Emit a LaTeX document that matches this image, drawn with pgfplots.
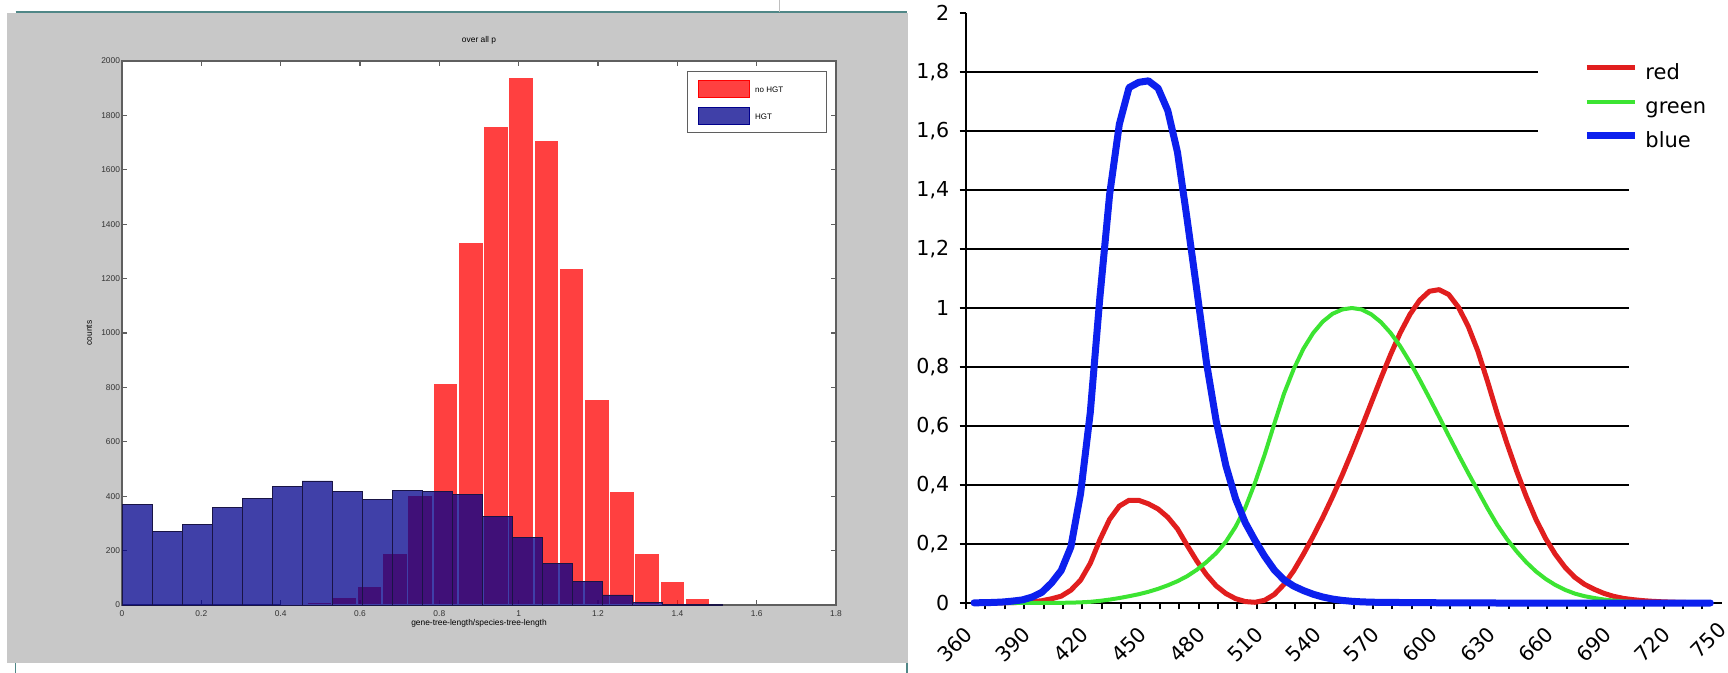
\documentclass[border=0pt]{standalone}
\usepackage{fontspec}
\setmainfont{Liberation Sans}
\newfontfamily\dejavu{DejaVu Sans}
\usepackage{pgfplots}
\usepackage{pgfplotstable}
\pgfplotsset{compat=1.18}

\definecolor{panelgray}{RGB}{200,200,200}
\definecolor{framegray}{RGB}{95,95,95}
\definecolor{hgtblue}{RGB}{0,0,140}
\definecolor{hgtedge}{RGB}{25,20,70}
\definecolor{cred}{RGB}{225,30,30}
\definecolor{cgreen}{RGB}{60,228,50}
\definecolor{cblue}{RGB}{12,32,238}
\definecolor{edgeteal}{RGB}{80,135,135}

% colour matching curves, 5 nm steps
\pgfplotstableread{
nm  red    green  blue
360 0.0001 0.0000 0.0006
365 0.0002 0.0000 0.0011
370 0.0004 0.0000 0.0019
375 0.0007 0.0000 0.0035
380 0.0014 0.0000 0.0065
385 0.0022 0.0001 0.0106
390 0.0042 0.0001 0.0201
395 0.0077 0.0002 0.0362
400 0.0143 0.0004 0.0679
405 0.0232 0.0006 0.1102
410 0.0435 0.0012 0.1900
415 0.0776 0.0022 0.3713
420 0.1344 0.0040 0.6456
425 0.2148 0.0073 1.0391
430 0.2839 0.0116 1.3856
435 0.3285 0.0168 1.6230
440 0.3483 0.0230 1.7471
445 0.3481 0.0298 1.7650
450 0.3362 0.0380 1.7700
455 0.3187 0.0480 1.7450
460 0.2908 0.0600 1.6692
465 0.2511 0.0739 1.5281
470 0.1954 0.0910 1.3000
475 0.1421 0.1126 1.0600
480 0.0956 0.1390 0.8130
485 0.0580 0.1693 0.6162
490 0.0320 0.2080 0.4652
495 0.0147 0.2586 0.3533
500 0.0049 0.3230 0.2720
505 0.0024 0.4073 0.2123
510 0.0093 0.5030 0.1582
515 0.0291 0.6082 0.1117
520 0.0633 0.7100 0.0783
525 0.1096 0.7932 0.0573
530 0.1655 0.8620 0.0422
535 0.2258 0.9149 0.0298
540 0.2904 0.9540 0.0203
545 0.3597 0.9803 0.0134
550 0.4335 0.9950 0.0088
555 0.5121 1.0000 0.0058
560 0.5945 0.9950 0.0039
565 0.6784 0.9786 0.0028
570 0.7621 0.9520 0.0021
575 0.8425 0.9154 0.0018
580 0.9163 0.8700 0.0017
585 0.9786 0.8163 0.0014
590 1.0263 0.7570 0.0011
595 1.0567 0.6949 0.0010
600 1.0622 0.6310 0.0008
605 1.0456 0.5668 0.0006
610 1.0026 0.5030 0.0003
615 0.9384 0.4412 0.0002
620 0.8544 0.3810 0.0002
625 0.7514 0.3210 0.0001
630 0.6424 0.2650 0.0000
635 0.5419 0.2170 0.0000
640 0.4479 0.1750 0.0000
645 0.3608 0.1382 0.0000
650 0.2835 0.1070 0.0000
655 0.2187 0.0816 0.0000
660 0.1649 0.0610 0.0000
665 0.1212 0.0446 0.0000
670 0.0874 0.0320 0.0000
675 0.0636 0.0232 0.0000
680 0.0468 0.0170 0.0000
685 0.0329 0.0119 0.0000
690 0.0227 0.0082 0.0000
695 0.0158 0.0057 0.0000
700 0.0114 0.0041 0.0000
705 0.0081 0.0029 0.0000
710 0.0058 0.0021 0.0000
715 0.0041 0.0015 0.0000
720 0.0029 0.0010 0.0000
725 0.0020 0.0007 0.0000
730 0.0014 0.0005 0.0000
735 0.0010 0.0004 0.0000
740 0.0007 0.0002 0.0000
}\cmf

\begin{document}
\begin{tikzpicture}
% 1 px of the reference = 0.5pt, origin at the top left corner
\useasboundingbox (0,0) rectangle (864pt,-336.5pt);
\fill[white] (0,0) rectangle (864pt,-336.5pt);
\fill[panelgray] (3.5pt,-6.5pt) rectangle (454pt,-331.5pt);
\draw[edgeteal, line width=0.6pt] (7.8pt,-6pt) -- (453.5pt,-6pt);
\draw[edgeteal, line width=0.6pt] (7.8pt,-331.5pt) -- (7.8pt,-336.5pt);
\draw[edgeteal, line width=0.6pt] (453.5pt,-331.5pt) -- (453.5pt,-336.5pt);
\draw[black!25, line width=0.4pt] (389.5pt,0pt) -- (389.5pt,-6pt);

% left: histogram
\begin{axis}[
    at={(61pt,-302.5pt)}, anchor=south west,
    width=357pt, height=272pt, scale only axis,
    xmin=0, xmax=1.8, ymin=0, ymax=2000,
    xtick={0,0.2,0.4,0.6,0.8,1,1.2,1.4,1.6,1.8},
    ytick={0,200,400,600,800,1000,1200,1400,1600,1800,2000},
    tick align=inside, major tick length=2.5pt,
    axis line style={framegray, line width=0.8pt},
    tick style={framegray, line width=0.6pt},
    axis background/.style={fill=white},
    font=\fontsize{4.2}{5}\selectfont,
    ticklabel style={black!80},
    /pgf/number format/1000 sep={},
    /pgf/number format/assume math mode=true,
    yticklabel style={anchor=east, inner sep=0.8pt},
    xticklabel style={anchor=center, yshift=-4.2pt},
    title={over all p},
    title style={at={(axis description cs:0.5,1.0165)}, anchor=center, inner sep=0pt},
    xlabel={gene-tree-length/species-tree-length},
    xlabel style={at={(axis description cs:0.5,-0.0331)}, anchor=center, inner sep=0pt},
    ylabel={counts},
    ylabel style={at={(axis description cs:-0.046,0.5)}, anchor=center, inner sep=0pt},
    legend style={at={(0.7913,0.9816)}, anchor=north west, draw=framegray, line width=0.6pt,
        fill=white, inner xsep=5pt, inner ysep=4pt, row sep=4.25pt, column sep=2.5pt,
        font=\fontsize{4}{5}\selectfont, nodes={inner sep=0pt}},
    legend cell align=left,
]
\addplot[ybar interval, fill=red, fill opacity=0.75, draw=white, line width=0.8pt,
    legend image code/.code={\fill[red] (0pt,-2.9pt) rectangle (25.5pt,5.6pt);}]
    coordinates {(0.402,3) (0.466,12) (0.529,30) (0.593,70) (0.656,190) (0.720,405)
    (0.784,817) (0.847,1332) (0.911,1762) (0.974,1942) (1.038,1710) (1.102,1240)
    (1.165,756) (1.229,417) (1.292,192) (1.356,86) (1.420,25) (1.483,25)};
\addlegendentry{\makebox[30.5pt][l]{no HGT}}
\addplot[ybar interval, fill=hgtblue, fill opacity=0.75, draw=hgtedge, line width=0.4pt,
    legend image code/.code={\fill[hgtblue] (0pt,-2.9pt) rectangle (25.5pt,5.6pt);}]
    coordinates {(0,370) (0.0757,270) (0.1514,297) (0.2271,359) (0.3028,392) (0.3785,435)
    (0.4542,456) (0.5299,419) (0.6056,389) (0.6813,420) (0.757,417) (0.8327,408)
    (0.9084,325) (0.9841,247) (1.0598,153) (1.1355,86) (1.2112,37) (1.2869,8)
    (1.3626,3) (1.4383,1) (1.514,1)};
\addlegendentry{\makebox[30.5pt][l]{HGT}}
\end{axis}

% right: line chart
\begin{axis}[
    at={(483pt,-301.5pt)}, anchor=south west,
    width=377.85pt, height=295pt, scale only axis,
    xmin=360, xmax=750, ymin=0, ymax=2,
    clip=false,
    axis lines*=left,
    axis line style={black, line width=1pt},
    tick align=outside, major tick length=3.2pt, minor tick length=3.2pt,
    tick style={black, line width=1pt},
    xtick={360,390,420,450,480,510,540,570,600,630,660,690,720},
    minor xtick={370,380,400,410,430,440,460,470,490,500,520,530,550,560,
        580,590,610,620,640,650,670,680,700,710,730,740},
    extra x ticks={750}, extra x tick labels={750},
    extra x tick style={major tick length=0pt, xticklabel style={xshift=-1.5pt}},
    ytick={0,0.2,0.4,0.6,0.8,1,1.2,1.4,1.6,1.8,2},
    /pgf/number format/assume math mode=true,
    ticklabel style={font=\dejavu\fontsize{10.3}{12}\selectfont},
    yticklabel style={/pgf/number format/use comma, /pgf/number format/fixed,
        /pgf/number format/precision=1, anchor=east, inner sep=0pt, xshift=-5pt},
    xticklabel style={yshift=-7.5pt, xshift=-1.5pt, rotate=45, anchor=north east, inner sep=0pt},
    legend style={at={(0.8165,0.9146)}, anchor=north west, draw=none, fill=none,
        inner sep=0pt, row sep=6.5pt, column sep=3.5pt,
        font=\dejavu\fontsize{10.5}{12}\selectfont,
        nodes={inner sep=0pt, text height=8pt, text depth=2.5pt}},
    legend cell align=left,
    legend image code/.code={\draw[#1, line cap=butt] (0pt,3.2pt) -- (24pt,3.2pt);},
]
% horizontal rules
\addplot[black, line width=1pt, forget plot] coordinates {(360,1.8) (655.2,1.8)};
\addplot[black, line width=1pt, forget plot] coordinates {(360,1.6) (655.2,1.6)};
\addplot[black, line width=1pt, forget plot] coordinates {(360,1.4) (702.2,1.4)};
\addplot[black, line width=1pt, forget plot] coordinates {(360,1.2) (702.2,1.2)};
\addplot[black, line width=1pt, forget plot] coordinates {(360,1.0) (702.2,1.0)};
\addplot[black, line width=1pt, forget plot] coordinates {(360,0.8) (702.2,0.8)};
\addplot[black, line width=1pt, forget plot] coordinates {(360,0.6) (702.2,0.6)};
\addplot[black, line width=1pt, forget plot] coordinates {(360,0.4) (702.2,0.4)};
\addplot[black, line width=1pt, forget plot] coordinates {(360,0.2) (702.2,0.2)};

\addplot[cred, line width=2.5pt, line join=round, line cap=round, x filter/.expression={x+4.13}]
    table[x=nm, y=red] {\cmf};
\addlegendentry{red}
\addplot[cgreen, line width=2pt, line join=round, line cap=round, x filter/.expression={x+4.13}]
    table[x=nm, y=green] {\cmf};
\addlegendentry{green}
\addplot[cblue, line width=3.5pt, line join=round, line cap=round, x filter/.expression={x+4.13}]
    table[x=nm, y=blue] {\cmf};
\addlegendentry{blue}
\end{axis}
\end{tikzpicture}
\end{document}
